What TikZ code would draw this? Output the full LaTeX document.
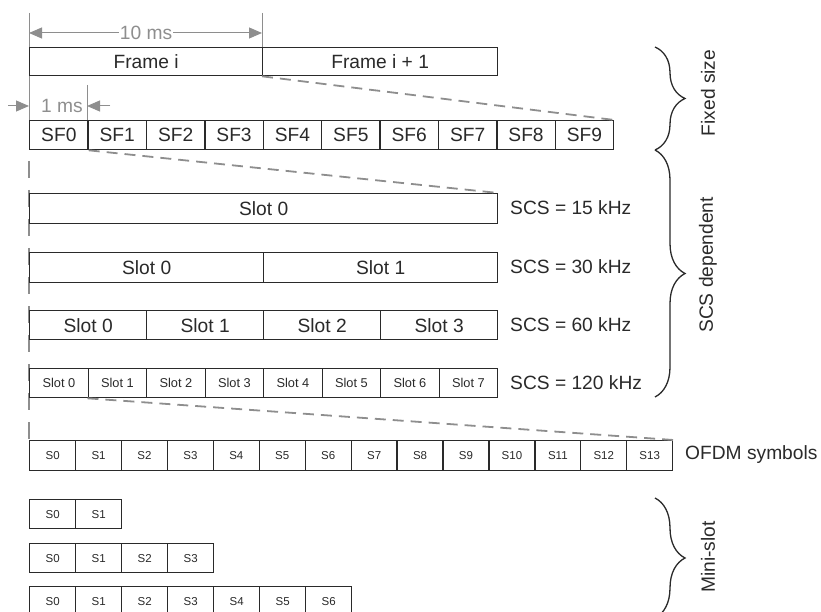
\documentclass[tikz,border=0pt]{standalone}
\usepackage{fontspec}
\setmainfont{Liberation Sans}
\usetikzlibrary{arrows.meta,decorations.pathreplacing}
\definecolor{txt}{HTML}{2A2A2A}
\definecolor{gl}{HTML}{8E8E8E}
\begin{document}
\begin{tikzpicture}[x=1pt,y=-1pt,
  cell/.style={draw=txt, fill=white, line width=1.3pt, inner sep=0pt, anchor=north west, text=txt, minimum height=29pt},
  big/.style={font=\fontsize{19.2}{21}\selectfont},
  mid/.style={font=\fontsize{12.8}{14}\selectfont},
  sml/.style={font=\fontsize{11.5}{12}\selectfont},
  gline/.style={draw=gl, line width=1pt},
  gdash/.style={draw=gl, line width=1.8pt, dash pattern=on 11pt off 7pt},
  garrow/.style={draw=gl, line width=1pt, -{Triangle[length=13pt,width=11pt]}, fill=gl},
  brc/.style={draw=txt, line width=1.3pt, decorate, decoration={brace, amplitude=30pt}},
  lbl/.style={big, text=txt, anchor=west, inner sep=0pt},
  rlbl/.style={big, text=txt, rotate=90, inner sep=0pt}]
\useasboundingbox (0,0) rectangle (821,612);

% guide lines
\coordinate (g0) at (29,13);
\coordinate (g1) at (29,120);
\coordinate (g2) at (29,149);
\coordinate (g3) at (29,440);
\coordinate (g4) at (262,13);
\coordinate (g5) at (262,47);
\coordinate (g6) at (87,85);
\coordinate (g7) at (87,120);
\draw[gline] (g0) -- (g1);
\draw[gline] (g4) -- (g5);
\draw[gline] (g6) -- (g7);
\draw[draw=gl, line width=1.8pt, dash pattern=on 17pt off 12pt, dash phase=-12pt] (g2) -- (g3);

% 10 ms
\coordinate (t0) at (29,33);
\coordinate (t1) at (262,33);
\node[big, text=gl, fill=white, inner sep=1pt] (tm) at (146,33) {10 ms};
\draw[garrow] (tm.west) -- (t0);
\draw[garrow] (tm.east) -- (t1);

% 1 ms
\coordinate (m0) at (8,106);
\coordinate (m1) at (29,106);
\coordinate (m2) at (110,106);
\coordinate (m3) at (87,106);
\node[big, text=gl, inner sep=0pt] (om) at (62,106) {1 ms};
\draw[garrow] (m0) -- (m1);
\draw[garrow] (m2) -- (m3);

% frames
\node[cell, big, minimum width=233pt, minimum height=28pt] (fa) at (29,47) {Frame i};
\node[cell, big, minimum width=235pt, minimum height=28pt] (fb) at (262,47) {Frame i + 1};

% subframes
\foreach \i in {0,...,9}
  \node[cell, big, minimum width=58.4pt] (sf\i) at ({29+58.4*\i},120) {SF\i};

% 15 kHz
\node[cell, big, minimum width=468pt, minimum height=30pt] (a0) at (29,193) {Slot 0};
% 30 kHz
\foreach \i in {0,1}
  \node[cell, big, minimum width=234pt, minimum height=30pt] (b\i) at ({29+234*\i},252) {Slot \i};
% 60 kHz
\foreach \i in {0,...,3}
  \node[cell, big, minimum width=117pt] (c\i) at ({29+117*\i},310) {Slot \i};
% 120 kHz
\foreach \i in {0,...,7}
  \node[cell, mid, minimum width=58.5pt] (d\i) at ({29+58.5*\i},368) {Slot \i};
% OFDM symbols
\foreach \i in {0,...,13}
  \node[cell, sml, minimum width=45.93pt, minimum height=30pt] (o\i) at ({29+45.93*\i},440) {S\i};
% mini-slots
\foreach \i in {0,1}
  \node[cell, sml, minimum width=46pt] (p\i) at ({29+46*\i},499) {S\i};
\foreach \i in {0,...,3}
  \node[cell, sml, minimum width=46pt] (q\i) at ({29+46*\i},543) {S\i};
\foreach \i in {0,...,6}
  \node[cell, sml, minimum width=46pt, minimum height=30pt] (r\i) at ({29+46*\i},586) {S\i};

% zoom dashes
\draw[gdash] (fb.south west) -- (sf9.north east);
\draw[gdash] (sf0.south east) -- (a0.north east);
\draw[gdash] (d1.south west) -- (o13.north east);

% SCS labels
\node[lbl] (l15) at (510,208) {SCS = 15 kHz};
\node[lbl] (l30) at (510,267) {SCS = 30 kHz};
\node[lbl] (l60) at (510,325) {SCS = 60 kHz};
\node[lbl] (l120) at (510,383) {SCS = 120 kHz};
\node[lbl] (lofdm) at (685,455) {OFDM symbols};

% braces
\coordinate (k0) at (655,47);
\coordinate (k1) at (655,150);
\coordinate (k2) at (655,397);
\coordinate (k3) at (655,498);
\coordinate (k4) at (655,618);
\draw[brc] (k0) -- (k1);
\draw[brc] (k1) -- (k2);
\draw[brc] (k3) -- (k4);
\node[rlbl] (bf) at (708,93) {Fixed size};
\node[rlbl] (bs) at (708,265) {SCS dependent};
\node[rlbl] (bm) at (708,557) {Mini-slot};
\end{tikzpicture}
\end{document}
